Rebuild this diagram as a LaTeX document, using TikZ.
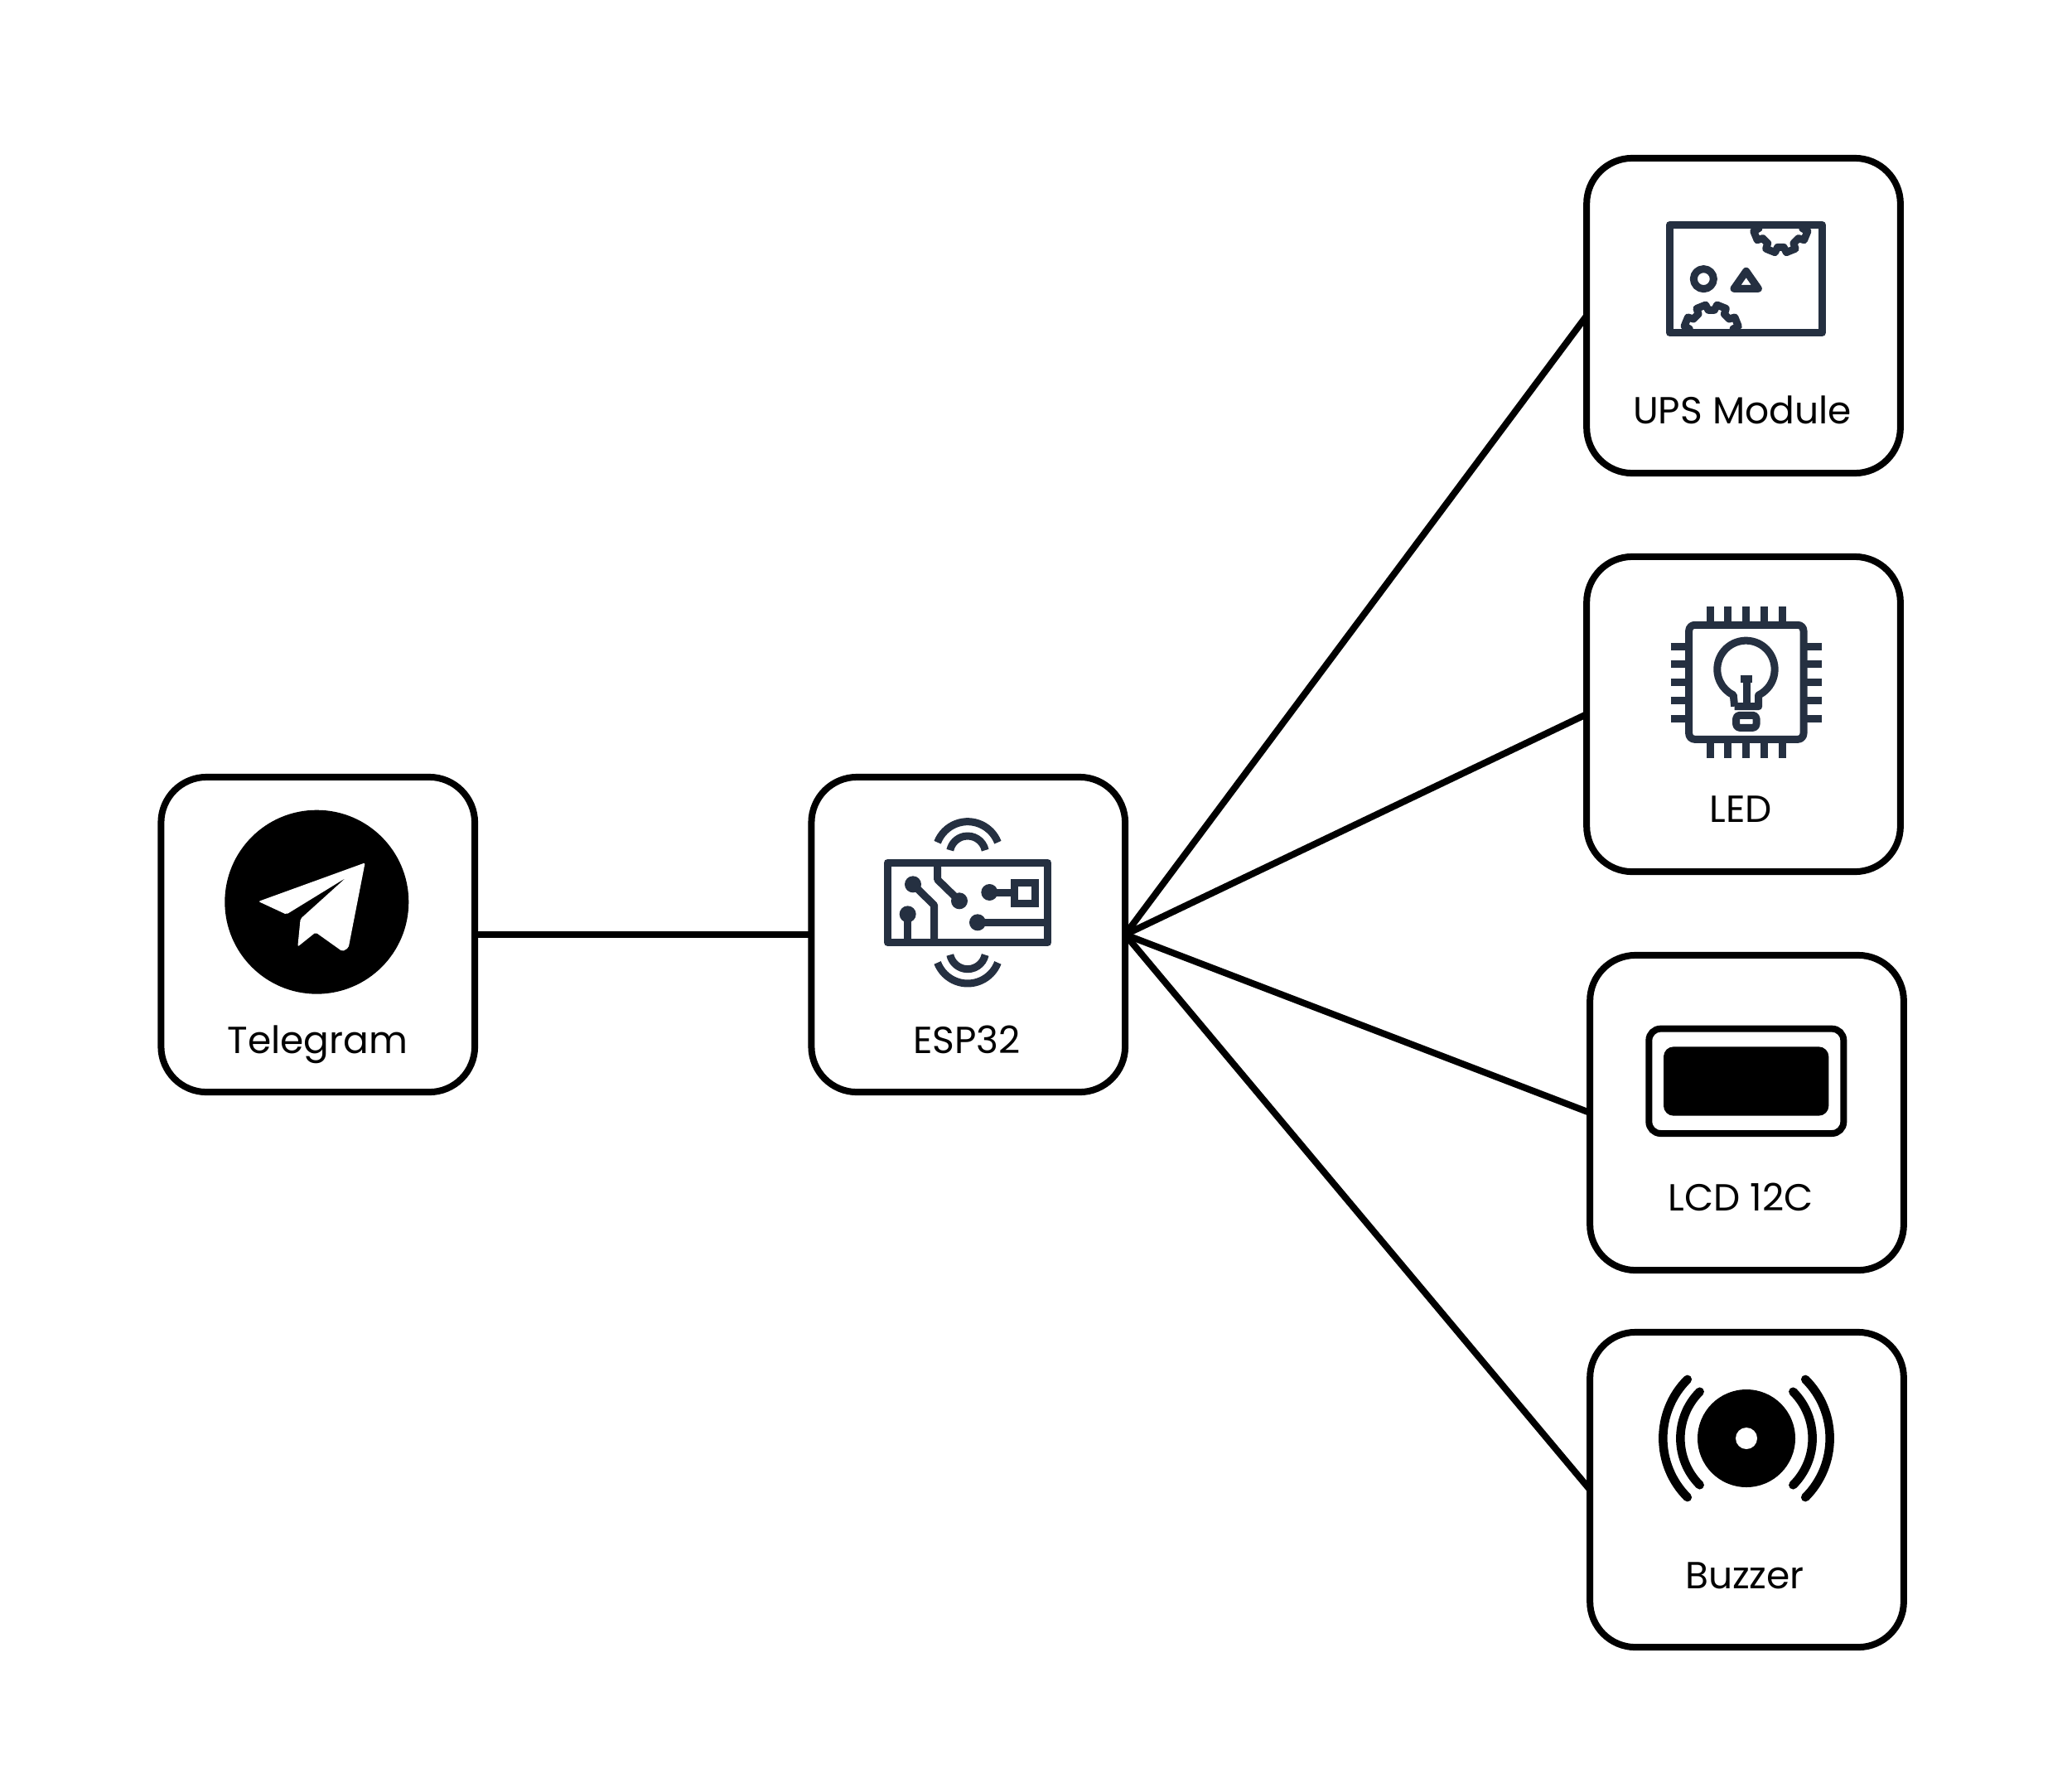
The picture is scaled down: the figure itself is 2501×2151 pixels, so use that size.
\documentclass[tikz,border=0pt]{standalone}
\usepackage{fontspec}
\setmainfont{Poppins}
\definecolor{iconblue}{RGB}{37,48,65}
\tikzset{
    devicebox/.style={draw=black, line width=0.08cm, rounded corners=0.55cm, minimum width=3.785cm, minimum height=3.8cm, outer sep=0pt},
    devicelabel/.style={anchor=base, inner sep=0pt, font=\fontsize{12.95pt}{15pt}\selectfont},
    wire/.style={draw=black, line width=0.08cm},
    iconline/.style={draw=iconblue, line width=0.09cm, line join=round},
    icondot/.style={fill=iconblue},
}
\newcommand{\gearicon}[2]{%
    \begin{scope}[shift={#1}, yscale=#2]
        \draw[iconline] (178:80) \foreach \a in {158,112,68,22} { -- ({\a+14}:80) -- ({\a+10}:100) -- ({\a-10}:100) -- ({\a-14}:80) } -- (2:80);
    \end{scope}}
\begin{document}
\begin{tikzpicture}[x=0.01cm, y=-0.01cm]
    \useasboundingbox (0,0) rectangle (2501,2151);

    % Boxes and their labels
    \foreach \name/\bx/\by/\tx/\ty/\lab in {telegram/383.75/1128/383.5/1271/Telegram, esp/1168.75/1128/1167/1271/ESP32, ups/2104.5/381/2103/511/UPS Module, led/2104.5/862/2101/992/LED, lcd/2108.5/1343/2101/1461/LCD 12C, buzzer/2108.5/1798/2106/1917/Buzzer} {
        \node[devicebox] (\name) at (\bx,\by) {};
        \node[devicelabel] (\name label) at (\tx,\ty) {\lab};
    }

    % Connectors
    \draw[wire] (telegram) -- (esp);
    \foreach \name in {ups, led, lcd, buzzer} {
        \draw[wire] (esp.east) -- (\name.west);
    }

    % Telegram icon
    \begin{scope}[shift={(180,930)}, scale=0.3333]
        \fill[black] (607,476) circle (333);
        \fill[white, rounded corners=0.02cm] (782,334) -- (396,474) -- (497,521) -- (712,389) -- (548,537) -- (538,638) -- (603,586) -- (700,655) -- (722,642) -- cycle;
    \end{scope}

    % ESP32 icon
    \begin{scope}[shift={(960,930)}, scale=0.3333]
        \draw[iconline] (334,333) rectangle (915,623);
        \draw[iconline, line join=miter] (793,405) rectangle (868,480);
        \foreach \cy/\sgn in {302/-1, 654/1} {
            \draw[iconline] (624,\cy) ++({\sgn*21}:117) arc ({\sgn*21}:{\sgn*159}:117);
            \draw[iconline] (624,\cy) ++({\sgn*12}:65) arc ({\sgn*12}:{\sgn*168}:65);
        }
        \draw[iconline] (426,412) -- (503,488) -- (503,623);
        \draw[iconline] (407,520) -- (407,623);
        \draw[iconline] (515,333) -- (515,395) -- (594,472);
        \draw[iconline] (703,441) -- (790,441);
        \draw[iconline] (660,550) -- (915,550);
        \foreach \dx/\dy in {426/412, 407/520, 594/472, 703/441, 660/550} {
            \fill[icondot] (\dx,\dy) circle (30);
        }
    \end{scope}

    % UPS icon
    \begin{scope}[shift={(1900,170)}, scale=0.3333]
        \draw[iconline] (346,304) rectangle (898,695);
        \draw[iconline] (469,500) circle (36);
        \draw[iconline] (623,472) -- (579,535) -- (667,535) -- cycle;
        \gearicon{(748,306)}{1}
        \gearicon{(497,692)}{-1}
    \end{scope}

    % LED icon
    \begin{scope}[shift={(1900,660)}, scale=0.3333]
        \draw[iconline, rounded corners=0.07cm] (416,283) rectangle (831,697);
        \foreach \p [evaluate=\p as \q using 360+65.5*\p, evaluate=\p as \r using 492+65.75*\p] in {0,...,4} {
            \draw[iconline] (\r,217) -- (\r,283);
            \draw[iconline] (\r,697) -- (\r,764);
            \draw[iconline] (350,\q) -- (416,\q);
            \draw[iconline] (831,\q) -- (897,\q);
        }
        \draw[iconline] (581,578) -- (668,578) -- (668,537) arc (64:-244:104) -- (581,578);
        \draw[iconline] (624,478) -- (624,578);
        \draw[iconline] (602,478) -- (646,478);
        \draw[iconline, rounded corners=0.04cm] (587,610) rectangle (660,655);
    \end{scope}

    % LCD icon
    \begin{scope}[shift={(1900,1140)}, scale=0.3333]
        \draw[draw=black, line width=0.08cm, rounded corners=0.14cm] (271,305) rectangle (976,684);
        \fill[black, rounded corners=0.12cm] (324,370) rectangle (922,620);
    \end{scope}

    % Buzzer icon
    \begin{scope}[shift={(1900,1600)}, scale=0.3333]
        \fill[black] (624,408) circle (177);
        \fill[white] (624,408) circle (39);
        \foreach \r in {239, 302} {
            \draw[black, line width=0.105cm, line cap=round] (624,408) ++(45:\r) arc (45:-45:\r);
            \draw[black, line width=0.105cm, line cap=round] (624,408) ++(135:\r) arc (135:225:\r);
        }
    \end{scope}
\end{tikzpicture}
\end{document}
